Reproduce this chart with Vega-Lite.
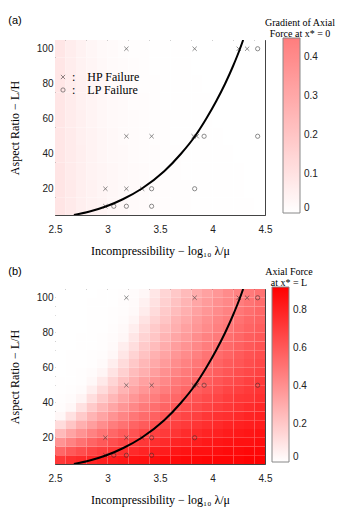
{
"$schema":"https://vega.github.io/schema/vega-lite/v6.json",
"padding":{"left":8,"top":15,"right":5,"bottom":5},
"config":{"view":{"stroke":null},
"axis":{"labelFont":"Liberation Sans","labelFontSize":10,"labelColor":"#222","labelFlush":false,"titleFont":"Liberation Serif","titleFontSize":12,"titleFontWeight":"normal","titleColor":"#000","domainColor":"#444","tickColor":"#555","tickSize":-3,"grid":false,"zindex":1},
"legend":{"titleFont":"Liberation Serif","titleFontSize":10,"titleFontWeight":"normal","titleColor":"#000","labelFont":"Liberation Sans","labelFontSize":10,"labelColor":"#222","gradientStrokeColor":"#888","gradientStrokeWidth":1},
"title":{"font":"Liberation Sans","fontSize":11,"fontWeight":"normal","color":"#000"}},
"datasets":{
"pts":[{"x":2.98,"y":10,"type":"HP"},{"x":2.98,"y":20,"type":"HP"},{"x":3.18,"y":20,"type":"HP"},{"x":3.18,"y":50,"type":"HP"},{"x":3.18,"y":100,"type":"HP"},{"x":3.33,"y":20,"type":"HP"},{"x":3.42,"y":50,"type":"HP"},{"x":3.82,"y":50,"type":"HP"},{"x":3.85,"y":50,"type":"HP"},{"x":3.83,"y":100,"type":"HP"},{"x":4.25,"y":100,"type":"HP"},{"x":4.33,"y":100,"type":"HP"},{"x":3.06,"y":10,"type":"LP"},{"x":3.18,"y":10,"type":"LP"},{"x":3.42,"y":10,"type":"LP"},{"x":3.42,"y":20,"type":"LP"},{"x":3.83,"y":20,"type":"LP"},{"x":3.92,"y":50,"type":"LP"},{"x":4.43,"y":50,"type":"LP"},{"x":4.43,"y":100,"type":"LP"}],
"curve":[{"x":2.68,"y":5},{"x":2.83,"y":7},{"x":2.99,"y":10},{"x":3.146,"y":14},{"x":3.325,"y":20},{"x":3.54,"y":30},{"x":3.7,"y":40},{"x":3.833,"y":50},{"x":3.94,"y":60},{"x":4.035,"y":70},{"x":4.12,"y":80},{"x":4.195,"y":90},{"x":4.262,"y":100},{"x":4.292,"y":105}],
"fa":[
{"x":2.55,"y":10,"v":0.090},{"x":2.65,"y":10,"v":0.072},{"x":2.75,"y":10,"v":0.057},{"x":2.85,"y":10,"v":0.046},{"x":2.95,"y":10,"v":0.037},{"x":3.05,"y":10,"v":0.029},{"x":3.15,"y":10,"v":0.024},{"x":3.25,"y":10,"v":0.019},{"x":3.35,"y":10,"v":0.015},{"x":3.45,"y":10,"v":0.012},{"x":3.55,"y":10,"v":0.010},{"x":3.65,"y":10,"v":0.008},{"x":3.75,"y":10,"v":0.006},{"x":3.85,"y":10,"v":0.005},{"x":3.95,"y":10,"v":0.004},{"x":4.05,"y":10,"v":0.003},{"x":4.15,"y":10,"v":0.003},{"x":4.25,"y":10,"v":0.002},{"x":4.35,"y":10,"v":0.002},{"x":4.45,"y":10,"v":0.001},
{"x":2.55,"y":20,"v":0.089},{"x":2.65,"y":20,"v":0.071},{"x":2.75,"y":20,"v":0.056},{"x":2.85,"y":20,"v":0.045},{"x":2.95,"y":20,"v":0.035},{"x":3.05,"y":20,"v":0.028},{"x":3.15,"y":20,"v":0.022},{"x":3.25,"y":20,"v":0.018},{"x":3.35,"y":20,"v":0.014},{"x":3.45,"y":20,"v":0.011},{"x":3.55,"y":20,"v":0.009},{"x":3.65,"y":20,"v":0.007},{"x":3.75,"y":20,"v":0.006},{"x":3.85,"y":20,"v":0.004},{"x":3.95,"y":20,"v":0.004},{"x":4.05,"y":20,"v":0.003},{"x":4.15,"y":20,"v":0.002},{"x":4.25,"y":20,"v":0.002},{"x":4.35,"y":20,"v":0.001},{"x":4.45,"y":20,"v":0.001},
{"x":2.55,"y":30,"v":0.089},{"x":2.65,"y":30,"v":0.070},{"x":2.75,"y":30,"v":0.055},{"x":2.85,"y":30,"v":0.043},{"x":2.95,"y":30,"v":0.034},{"x":3.05,"y":30,"v":0.027},{"x":3.15,"y":30,"v":0.021},{"x":3.25,"y":30,"v":0.017},{"x":3.35,"y":30,"v":0.013},{"x":3.45,"y":30,"v":0.010},{"x":3.55,"y":30,"v":0.008},{"x":3.65,"y":30,"v":0.006},{"x":3.75,"y":30,"v":0.005},{"x":3.85,"y":30,"v":0.004},{"x":3.95,"y":30,"v":0.003},{"x":4.05,"y":30,"v":0.002},{"x":4.15,"y":30,"v":0.002},{"x":4.25,"y":30,"v":0.002},{"x":4.35,"y":30,"v":0.001},{"x":4.45,"y":30,"v":0.001},
{"x":2.55,"y":40,"v":0.088},{"x":2.65,"y":40,"v":0.069},{"x":2.75,"y":40,"v":0.054},{"x":2.85,"y":40,"v":0.042},{"x":2.95,"y":40,"v":0.032},{"x":3.05,"y":40,"v":0.025},{"x":3.15,"y":40,"v":0.020},{"x":3.25,"y":40,"v":0.015},{"x":3.35,"y":40,"v":0.012},{"x":3.45,"y":40,"v":0.009},{"x":3.55,"y":40,"v":0.007},{"x":3.65,"y":40,"v":0.006},{"x":3.75,"y":40,"v":0.004},{"x":3.85,"y":40,"v":0.003},{"x":3.95,"y":40,"v":0.003},{"x":4.05,"y":40,"v":0.002},{"x":4.15,"y":40,"v":0.002},{"x":4.25,"y":40,"v":0.001},{"x":4.35,"y":40,"v":0.001},{"x":4.45,"y":40,"v":0.001},
{"x":2.55,"y":50,"v":0.088},{"x":2.65,"y":50,"v":0.068},{"x":2.75,"y":50,"v":0.052},{"x":2.85,"y":50,"v":0.040},{"x":2.95,"y":50,"v":0.031},{"x":3.05,"y":50,"v":0.024},{"x":3.15,"y":50,"v":0.018},{"x":3.25,"y":50,"v":0.014},{"x":3.35,"y":50,"v":0.011},{"x":3.45,"y":50,"v":0.008},{"x":3.55,"y":50,"v":0.006},{"x":3.65,"y":50,"v":0.005},{"x":3.75,"y":50,"v":0.004},{"x":3.85,"y":50,"v":0.003},{"x":3.95,"y":50,"v":0.002},{"x":4.05,"y":50,"v":0.002},{"x":4.15,"y":50,"v":0.001},{"x":4.25,"y":50,"v":0.001},{"x":4.35,"y":50,"v":0.001},{"x":4.45,"y":50,"v":0.001},
{"x":2.55,"y":60,"v":0.087},{"x":2.65,"y":60,"v":0.066},{"x":2.75,"y":60,"v":0.051},{"x":2.85,"y":60,"v":0.039},{"x":2.95,"y":60,"v":0.029},{"x":3.05,"y":60,"v":0.022},{"x":3.15,"y":60,"v":0.017},{"x":3.25,"y":60,"v":0.013},{"x":3.35,"y":60,"v":0.010},{"x":3.45,"y":60,"v":0.008},{"x":3.55,"y":60,"v":0.006},{"x":3.65,"y":60,"v":0.004},{"x":3.75,"y":60,"v":0.003},{"x":3.85,"y":60,"v":0.003},{"x":3.95,"y":60,"v":0.002},{"x":4.05,"y":60,"v":0.001},{"x":4.15,"y":60,"v":0.001},{"x":4.25,"y":60,"v":0.001},{"x":4.35,"y":60,"v":0.001},{"x":4.45,"y":60,"v":0},
{"x":2.55,"y":70,"v":0.087},{"x":2.65,"y":70,"v":0.065},{"x":2.75,"y":70,"v":0.049},{"x":2.85,"y":70,"v":0.037},{"x":2.95,"y":70,"v":0.028},{"x":3.05,"y":70,"v":0.021},{"x":3.15,"y":70,"v":0.016},{"x":3.25,"y":70,"v":0.012},{"x":3.35,"y":70,"v":0.009},{"x":3.45,"y":70,"v":0.007},{"x":3.55,"y":70,"v":0.005},{"x":3.65,"y":70,"v":0.004},{"x":3.75,"y":70,"v":0.003},{"x":3.85,"y":70,"v":0.002},{"x":3.95,"y":70,"v":0.002},{"x":4.05,"y":70,"v":0.001},{"x":4.15,"y":70,"v":0.001},{"x":4.25,"y":70,"v":0.001},{"x":4.35,"y":70,"v":0.001},{"x":4.45,"y":70,"v":0},
{"x":2.55,"y":80,"v":0.086},{"x":2.65,"y":80,"v":0.064},{"x":2.75,"y":80,"v":0.047},{"x":2.85,"y":80,"v":0.035},{"x":2.95,"y":80,"v":0.026},{"x":3.05,"y":80,"v":0.019},{"x":3.15,"y":80,"v":0.014},{"x":3.25,"y":80,"v":0.011},{"x":3.35,"y":80,"v":0.008},{"x":3.45,"y":80,"v":0.006},{"x":3.55,"y":80,"v":0.004},{"x":3.65,"y":80,"v":0.003},{"x":3.75,"y":80,"v":0.002},{"x":3.85,"y":80,"v":0.002},{"x":3.95,"y":80,"v":0.001},{"x":4.05,"y":80,"v":0.001},{"x":4.15,"y":80,"v":0.001},{"x":4.25,"y":80,"v":0.001},{"x":4.35,"y":80,"v":0},{"x":4.45,"y":80,"v":0},
{"x":2.55,"y":90,"v":0.085},{"x":2.65,"y":90,"v":0.062},{"x":2.75,"y":90,"v":0.045},{"x":2.85,"y":90,"v":0.033},{"x":2.95,"y":90,"v":0.024},{"x":3.05,"y":90,"v":0.018},{"x":3.15,"y":90,"v":0.013},{"x":3.25,"y":90,"v":0.009},{"x":3.35,"y":90,"v":0.007},{"x":3.45,"y":90,"v":0.005},{"x":3.55,"y":90,"v":0.004},{"x":3.65,"y":90,"v":0.003},{"x":3.75,"y":90,"v":0.002},{"x":3.85,"y":90,"v":0.001},{"x":3.95,"y":90,"v":0.001},{"x":4.05,"y":90,"v":0.001},{"x":4.15,"y":90,"v":0.001},{"x":4.25,"y":90,"v":0},{"x":4.35,"y":90,"v":0},{"x":4.45,"y":90,"v":0},
{"x":2.55,"y":100,"v":0.085},{"x":2.65,"y":100,"v":0.061},{"x":2.75,"y":100,"v":0.044},{"x":2.85,"y":100,"v":0.031},{"x":2.95,"y":100,"v":0.022},{"x":3.05,"y":100,"v":0.016},{"x":3.15,"y":100,"v":0.011},{"x":3.25,"y":100,"v":0.008},{"x":3.35,"y":100,"v":0.006},{"x":3.45,"y":100,"v":0.004},{"x":3.55,"y":100,"v":0.003},{"x":3.65,"y":100,"v":0.002},{"x":3.75,"y":100,"v":0.002},{"x":3.85,"y":100,"v":0.001},{"x":3.95,"y":100,"v":0.001},{"x":4.05,"y":100,"v":0.001},{"x":4.15,"y":100,"v":0},{"x":4.25,"y":100,"v":0},{"x":4.35,"y":100,"v":0},{"x":4.45,"y":100,"v":0}
],
"fb":[
{"x":2.55,"y":7.5,"v":0.72},{"x":2.65,"y":7.5,"v":0.75},{"x":2.75,"y":7.5,"v":0.77},{"x":2.85,"y":7.5,"v":0.79},{"x":2.95,"y":7.5,"v":0.81},{"x":3.05,"y":7.5,"v":0.83},{"x":3.15,"y":7.5,"v":0.84},{"x":3.25,"y":7.5,"v":0.85},{"x":3.35,"y":7.5,"v":0.86},{"x":3.45,"y":7.5,"v":0.87},{"x":3.55,"y":7.5,"v":0.88},{"x":3.65,"y":7.5,"v":0.88},{"x":3.75,"y":7.5,"v":0.89},{"x":3.85,"y":7.5,"v":0.89},{"x":3.95,"y":7.5,"v":0.90},{"x":4.05,"y":7.5,"v":0.90},{"x":4.15,"y":7.5,"v":0.90},{"x":4.25,"y":7.5,"v":0.90},{"x":4.35,"y":7.5,"v":0.91},{"x":4.45,"y":7.5,"v":0.91},
{"x":2.55,"y":12.5,"v":0.55},{"x":2.65,"y":12.5,"v":0.60},{"x":2.75,"y":12.5,"v":0.64},{"x":2.85,"y":12.5,"v":0.67},{"x":2.95,"y":12.5,"v":0.70},{"x":3.05,"y":12.5,"v":0.73},{"x":3.15,"y":12.5,"v":0.75},{"x":3.25,"y":12.5,"v":0.77},{"x":3.35,"y":12.5,"v":0.79},{"x":3.45,"y":12.5,"v":0.81},{"x":3.55,"y":12.5,"v":0.82},{"x":3.65,"y":12.5,"v":0.84},{"x":3.75,"y":12.5,"v":0.85},{"x":3.85,"y":12.5,"v":0.86},{"x":3.95,"y":12.5,"v":0.86},{"x":4.05,"y":12.5,"v":0.87},{"x":4.15,"y":12.5,"v":0.88},{"x":4.25,"y":12.5,"v":0.88},{"x":4.35,"y":12.5,"v":0.89},{"x":4.45,"y":12.5,"v":0.89},
{"x":2.55,"y":17.5,"v":0.39},{"x":2.65,"y":17.5,"v":0.45},{"x":2.75,"y":17.5,"v":0.51},{"x":2.85,"y":17.5,"v":0.56},{"x":2.95,"y":17.5,"v":0.60},{"x":3.05,"y":17.5,"v":0.64},{"x":3.15,"y":17.5,"v":0.67},{"x":3.25,"y":17.5,"v":0.70},{"x":3.35,"y":17.5,"v":0.72},{"x":3.45,"y":17.5,"v":0.75},{"x":3.55,"y":17.5,"v":0.77},{"x":3.65,"y":17.5,"v":0.79},{"x":3.75,"y":17.5,"v":0.80},{"x":3.85,"y":17.5,"v":0.81},{"x":3.95,"y":17.5,"v":0.83},{"x":4.05,"y":17.5,"v":0.84},{"x":4.15,"y":17.5,"v":0.85},{"x":4.25,"y":17.5,"v":0.86},{"x":4.35,"y":17.5,"v":0.86},{"x":4.45,"y":17.5,"v":0.87},
{"x":2.55,"y":22.5,"v":0.25},{"x":2.65,"y":22.5,"v":0.33},{"x":2.75,"y":22.5,"v":0.39},{"x":2.85,"y":22.5,"v":0.45},{"x":2.95,"y":22.5,"v":0.50},{"x":3.05,"y":22.5,"v":0.55},{"x":3.15,"y":22.5,"v":0.59},{"x":3.25,"y":22.5,"v":0.62},{"x":3.35,"y":22.5,"v":0.66},{"x":3.45,"y":22.5,"v":0.69},{"x":3.55,"y":22.5,"v":0.71},{"x":3.65,"y":22.5,"v":0.73},{"x":3.75,"y":22.5,"v":0.76},{"x":3.85,"y":22.5,"v":0.77},{"x":3.95,"y":22.5,"v":0.79},{"x":4.05,"y":22.5,"v":0.80},{"x":4.15,"y":22.5,"v":0.82},{"x":4.25,"y":22.5,"v":0.83},{"x":4.35,"y":22.5,"v":0.84},{"x":4.45,"y":22.5,"v":0.85},
{"x":2.55,"y":27.5,"v":0.13},{"x":2.65,"y":27.5,"v":0.21},{"x":2.75,"y":27.5,"v":0.29},{"x":2.85,"y":27.5,"v":0.35},{"x":2.95,"y":27.5,"v":0.41},{"x":3.05,"y":27.5,"v":0.47},{"x":3.15,"y":27.5,"v":0.51},{"x":3.25,"y":27.5,"v":0.56},{"x":3.35,"y":27.5,"v":0.59},{"x":3.45,"y":27.5,"v":0.63},{"x":3.55,"y":27.5,"v":0.66},{"x":3.65,"y":27.5,"v":0.69},{"x":3.75,"y":27.5,"v":0.71},{"x":3.85,"y":27.5,"v":0.73},{"x":3.95,"y":27.5,"v":0.75},{"x":4.05,"y":27.5,"v":0.77},{"x":4.15,"y":27.5,"v":0.79},{"x":4.25,"y":27.5,"v":0.80},{"x":4.35,"y":27.5,"v":0.81},{"x":4.45,"y":27.5,"v":0.82},
{"x":2.55,"y":32.5,"v":0.03},{"x":2.65,"y":32.5,"v":0.11},{"x":2.75,"y":32.5,"v":0.19},{"x":2.85,"y":32.5,"v":0.27},{"x":2.95,"y":32.5,"v":0.33},{"x":3.05,"y":32.5,"v":0.39},{"x":3.15,"y":32.5,"v":0.44},{"x":3.25,"y":32.5,"v":0.49},{"x":3.35,"y":32.5,"v":0.53},{"x":3.45,"y":32.5,"v":0.57},{"x":3.55,"y":32.5,"v":0.61},{"x":3.65,"y":32.5,"v":0.64},{"x":3.75,"y":32.5,"v":0.67},{"x":3.85,"y":32.5,"v":0.69},{"x":3.95,"y":32.5,"v":0.72},{"x":4.05,"y":32.5,"v":0.74},{"x":4.15,"y":32.5,"v":0.75},{"x":4.25,"y":32.5,"v":0.77},{"x":4.35,"y":32.5,"v":0.79},{"x":4.45,"y":32.5,"v":0.80},
{"x":2.55,"y":37.5,"v":0.012},{"x":2.65,"y":37.5,"v":0.03},{"x":2.75,"y":37.5,"v":0.11},{"x":2.85,"y":37.5,"v":0.19},{"x":2.95,"y":37.5,"v":0.26},{"x":3.05,"y":37.5,"v":0.32},{"x":3.15,"y":37.5,"v":0.38},{"x":3.25,"y":37.5,"v":0.43},{"x":3.35,"y":37.5,"v":0.48},{"x":3.45,"y":37.5,"v":0.52},{"x":3.55,"y":37.5,"v":0.56},{"x":3.65,"y":37.5,"v":0.60},{"x":3.75,"y":37.5,"v":0.63},{"x":3.85,"y":37.5,"v":0.65},{"x":3.95,"y":37.5,"v":0.68},{"x":4.05,"y":37.5,"v":0.70},{"x":4.15,"y":37.5,"v":0.72},{"x":4.25,"y":37.5,"v":0.74},{"x":4.35,"y":37.5,"v":0.76},{"x":4.45,"y":37.5,"v":0.78},
{"x":2.55,"y":42.5,"v":0.006},{"x":2.65,"y":42.5,"v":0.013},{"x":2.75,"y":42.5,"v":0.04},{"x":2.85,"y":42.5,"v":0.12},{"x":2.95,"y":42.5,"v":0.19},{"x":3.05,"y":42.5,"v":0.26},{"x":3.15,"y":42.5,"v":0.32},{"x":3.25,"y":42.5,"v":0.38},{"x":3.35,"y":42.5,"v":0.43},{"x":3.45,"y":42.5,"v":0.47},{"x":3.55,"y":42.5,"v":0.52},{"x":3.65,"y":42.5,"v":0.55},{"x":3.75,"y":42.5,"v":0.59},{"x":3.85,"y":42.5,"v":0.62},{"x":3.95,"y":42.5,"v":0.65},{"x":4.05,"y":42.5,"v":0.67},{"x":4.15,"y":42.5,"v":0.70},{"x":4.25,"y":42.5,"v":0.72},{"x":4.35,"y":42.5,"v":0.73},{"x":4.45,"y":42.5,"v":0.75},
{"x":2.55,"y":47.5,"v":0.003},{"x":2.65,"y":47.5,"v":0.007},{"x":2.75,"y":47.5,"v":0.016},{"x":2.85,"y":47.5,"v":0.06},{"x":2.95,"y":47.5,"v":0.13},{"x":3.05,"y":47.5,"v":0.20},{"x":3.15,"y":47.5,"v":0.27},{"x":3.25,"y":47.5,"v":0.33},{"x":3.35,"y":47.5,"v":0.38},{"x":3.45,"y":47.5,"v":0.43},{"x":3.55,"y":47.5,"v":0.47},{"x":3.65,"y":47.5,"v":0.51},{"x":3.75,"y":47.5,"v":0.55},{"x":3.85,"y":47.5,"v":0.58},{"x":3.95,"y":47.5,"v":0.61},{"x":4.05,"y":47.5,"v":0.64},{"x":4.15,"y":47.5,"v":0.67},{"x":4.25,"y":47.5,"v":0.69},{"x":4.35,"y":47.5,"v":0.71},{"x":4.45,"y":47.5,"v":0.73},
{"x":2.55,"y":52.5,"v":0.002},{"x":2.65,"y":52.5,"v":0.004},{"x":2.75,"y":52.5,"v":0.009},{"x":2.85,"y":52.5,"v":0.025},{"x":2.95,"y":52.5,"v":0.08},{"x":3.05,"y":52.5,"v":0.15},{"x":3.15,"y":52.5,"v":0.22},{"x":3.25,"y":52.5,"v":0.28},{"x":3.35,"y":52.5,"v":0.34},{"x":3.45,"y":52.5,"v":0.39},{"x":3.55,"y":52.5,"v":0.43},{"x":3.65,"y":52.5,"v":0.48},{"x":3.75,"y":52.5,"v":0.51},{"x":3.85,"y":52.5,"v":0.55},{"x":3.95,"y":52.5,"v":0.58},{"x":4.05,"y":52.5,"v":0.61},{"x":4.15,"y":52.5,"v":0.64},{"x":4.25,"y":52.5,"v":0.66},{"x":4.35,"y":52.5,"v":0.69},{"x":4.45,"y":52.5,"v":0.71},
{"x":2.55,"y":57.5,"v":0.001},{"x":2.65,"y":57.5,"v":0.003},{"x":2.75,"y":57.5,"v":0.006},{"x":2.85,"y":57.5,"v":0.013},{"x":2.95,"y":57.5,"v":0.035},{"x":3.05,"y":57.5,"v":0.10},{"x":3.15,"y":57.5,"v":0.17},{"x":3.25,"y":57.5,"v":0.24},{"x":3.35,"y":57.5,"v":0.29},{"x":3.45,"y":57.5,"v":0.35},{"x":3.55,"y":57.5,"v":0.40},{"x":3.65,"y":57.5,"v":0.44},{"x":3.75,"y":57.5,"v":0.48},{"x":3.85,"y":57.5,"v":0.52},{"x":3.95,"y":57.5,"v":0.55},{"x":4.05,"y":57.5,"v":0.58},{"x":4.15,"y":57.5,"v":0.61},{"x":4.25,"y":57.5,"v":0.64},{"x":4.35,"y":57.5,"v":0.66},{"x":4.45,"y":57.5,"v":0.68},
{"x":2.55,"y":62.5,"v":0.001},{"x":2.65,"y":62.5,"v":0.002},{"x":2.75,"y":62.5,"v":0.004},{"x":2.85,"y":62.5,"v":0.009},{"x":2.95,"y":62.5,"v":0.018},{"x":3.05,"y":62.5,"v":0.06},{"x":3.15,"y":62.5,"v":0.13},{"x":3.25,"y":62.5,"v":0.20},{"x":3.35,"y":62.5,"v":0.26},{"x":3.45,"y":62.5,"v":0.31},{"x":3.55,"y":62.5,"v":0.36},{"x":3.65,"y":62.5,"v":0.41},{"x":3.75,"y":62.5,"v":0.45},{"x":3.85,"y":62.5,"v":0.49},{"x":3.95,"y":62.5,"v":0.52},{"x":4.05,"y":62.5,"v":0.56},{"x":4.15,"y":62.5,"v":0.59},{"x":4.25,"y":62.5,"v":0.61},{"x":4.35,"y":62.5,"v":0.64},{"x":4.45,"y":62.5,"v":0.66},
{"x":2.55,"y":67.5,"v":0.001},{"x":2.65,"y":67.5,"v":0.002},{"x":2.75,"y":67.5,"v":0.003},{"x":2.85,"y":67.5,"v":0.006},{"x":2.95,"y":67.5,"v":0.012},{"x":3.05,"y":67.5,"v":0.03},{"x":3.15,"y":67.5,"v":0.09},{"x":3.25,"y":67.5,"v":0.16},{"x":3.35,"y":67.5,"v":0.22},{"x":3.45,"y":67.5,"v":0.28},{"x":3.55,"y":67.5,"v":0.33},{"x":3.65,"y":67.5,"v":0.38},{"x":3.75,"y":67.5,"v":0.42},{"x":3.85,"y":67.5,"v":0.46},{"x":3.95,"y":67.5,"v":0.50},{"x":4.05,"y":67.5,"v":0.53},{"x":4.15,"y":67.5,"v":0.56},{"x":4.25,"y":67.5,"v":0.59},{"x":4.35,"y":67.5,"v":0.62},{"x":4.45,"y":67.5,"v":0.64},
{"x":2.55,"y":72.5,"v":0},{"x":2.65,"y":72.5,"v":0.001},{"x":2.75,"y":72.5,"v":0.002},{"x":2.85,"y":72.5,"v":0.004},{"x":2.95,"y":72.5,"v":0.009},{"x":3.05,"y":72.5,"v":0.018},{"x":3.15,"y":72.5,"v":0.06},{"x":3.25,"y":72.5,"v":0.12},{"x":3.35,"y":72.5,"v":0.19},{"x":3.45,"y":72.5,"v":0.24},{"x":3.55,"y":72.5,"v":0.30},{"x":3.65,"y":72.5,"v":0.35},{"x":3.75,"y":72.5,"v":0.39},{"x":3.85,"y":72.5,"v":0.43},{"x":3.95,"y":72.5,"v":0.47},{"x":4.05,"y":72.5,"v":0.51},{"x":4.15,"y":72.5,"v":0.54},{"x":4.25,"y":72.5,"v":0.57},{"x":4.35,"y":72.5,"v":0.60},{"x":4.45,"y":72.5,"v":0.62},
{"x":2.55,"y":77.5,"v":0},{"x":2.65,"y":77.5,"v":0.001},{"x":2.75,"y":77.5,"v":0.002},{"x":2.85,"y":77.5,"v":0.003},{"x":2.95,"y":77.5,"v":0.007},{"x":3.05,"y":77.5,"v":0.013},{"x":3.15,"y":77.5,"v":0.03},{"x":3.25,"y":77.5,"v":0.09},{"x":3.35,"y":77.5,"v":0.16},{"x":3.45,"y":77.5,"v":0.21},{"x":3.55,"y":77.5,"v":0.27},{"x":3.65,"y":77.5,"v":0.32},{"x":3.75,"y":77.5,"v":0.36},{"x":3.85,"y":77.5,"v":0.41},{"x":3.95,"y":77.5,"v":0.45},{"x":4.05,"y":77.5,"v":0.48},{"x":4.15,"y":77.5,"v":0.52},{"x":4.25,"y":77.5,"v":0.55},{"x":4.35,"y":77.5,"v":0.58},{"x":4.45,"y":77.5,"v":0.60},
{"x":2.55,"y":82.5,"v":0},{"x":2.65,"y":82.5,"v":0},{"x":2.75,"y":82.5,"v":0.001},{"x":2.85,"y":82.5,"v":0.003},{"x":2.95,"y":82.5,"v":0.005},{"x":3.05,"y":82.5,"v":0.01},{"x":3.15,"y":82.5,"v":0.02},{"x":3.25,"y":82.5,"v":0.06},{"x":3.35,"y":82.5,"v":0.13},{"x":3.45,"y":82.5,"v":0.19},{"x":3.55,"y":82.5,"v":0.24},{"x":3.65,"y":82.5,"v":0.29},{"x":3.75,"y":82.5,"v":0.34},{"x":3.85,"y":82.5,"v":0.38},{"x":3.95,"y":82.5,"v":0.42},{"x":4.05,"y":82.5,"v":0.46},{"x":4.15,"y":82.5,"v":0.49},{"x":4.25,"y":82.5,"v":0.53},{"x":4.35,"y":82.5,"v":0.56},{"x":4.45,"y":82.5,"v":0.58},
{"x":2.55,"y":87.5,"v":0},{"x":2.65,"y":87.5,"v":0},{"x":2.75,"y":87.5,"v":0.001},{"x":2.85,"y":87.5,"v":0.002},{"x":2.95,"y":87.5,"v":0.004},{"x":3.05,"y":87.5,"v":0.008},{"x":3.15,"y":87.5,"v":0.015},{"x":3.25,"y":87.5,"v":0.035},{"x":3.35,"y":87.5,"v":0.10},{"x":3.45,"y":87.5,"v":0.16},{"x":3.55,"y":87.5,"v":0.21},{"x":3.65,"y":87.5,"v":0.27},{"x":3.75,"y":87.5,"v":0.31},{"x":3.85,"y":87.5,"v":0.36},{"x":3.95,"y":87.5,"v":0.40},{"x":4.05,"y":87.5,"v":0.44},{"x":4.15,"y":87.5,"v":0.47},{"x":4.25,"y":87.5,"v":0.51},{"x":4.35,"y":87.5,"v":0.54},{"x":4.45,"y":87.5,"v":0.56},
{"x":2.55,"y":92.5,"v":0},{"x":2.65,"y":92.5,"v":0},{"x":2.75,"y":92.5,"v":0.001},{"x":2.85,"y":92.5,"v":0.002},{"x":2.95,"y":92.5,"v":0.003},{"x":3.05,"y":92.5,"v":0.006},{"x":3.15,"y":92.5,"v":0.012},{"x":3.25,"y":92.5,"v":0.022},{"x":3.35,"y":92.5,"v":0.07},{"x":3.45,"y":92.5,"v":0.13},{"x":3.55,"y":92.5,"v":0.19},{"x":3.65,"y":92.5,"v":0.24},{"x":3.75,"y":92.5,"v":0.29},{"x":3.85,"y":92.5,"v":0.34},{"x":3.95,"y":92.5,"v":0.38},{"x":4.05,"y":92.5,"v":0.42},{"x":4.15,"y":92.5,"v":0.45},{"x":4.25,"y":92.5,"v":0.49},{"x":4.35,"y":92.5,"v":0.52},{"x":4.45,"y":92.5,"v":0.55},
{"x":2.55,"y":97.5,"v":0},{"x":2.65,"y":97.5,"v":0},{"x":2.75,"y":97.5,"v":0},{"x":2.85,"y":97.5,"v":0.002},{"x":2.95,"y":97.5,"v":0.003},{"x":3.05,"y":97.5,"v":0.005},{"x":3.15,"y":97.5,"v":0.01},{"x":3.25,"y":97.5,"v":0.018},{"x":3.35,"y":97.5,"v":0.05},{"x":3.45,"y":97.5,"v":0.11},{"x":3.55,"y":97.5,"v":0.17},{"x":3.65,"y":97.5,"v":0.22},{"x":3.75,"y":97.5,"v":0.27},{"x":3.85,"y":97.5,"v":0.32},{"x":3.95,"y":97.5,"v":0.36},{"x":4.05,"y":97.5,"v":0.40},{"x":4.15,"y":97.5,"v":0.43},{"x":4.25,"y":97.5,"v":0.47},{"x":4.35,"y":97.5,"v":0.50},{"x":4.45,"y":97.5,"v":0.53},
{"x":2.55,"y":102.5,"v":0},{"x":2.65,"y":102.5,"v":0},{"x":2.75,"y":102.5,"v":0},{"x":2.85,"y":102.5,"v":0.001},{"x":2.95,"y":102.5,"v":0.002},{"x":3.05,"y":102.5,"v":0.004},{"x":3.15,"y":102.5,"v":0.008},{"x":3.25,"y":102.5,"v":0.014},{"x":3.35,"y":102.5,"v":0.03},{"x":3.45,"y":102.5,"v":0.09},{"x":3.55,"y":102.5,"v":0.15},{"x":3.65,"y":102.5,"v":0.20},{"x":3.75,"y":102.5,"v":0.25},{"x":3.85,"y":102.5,"v":0.30},{"x":3.95,"y":102.5,"v":0.34},{"x":4.05,"y":102.5,"v":0.38},{"x":4.15,"y":102.5,"v":0.42},{"x":4.25,"y":102.5,"v":0.45},{"x":4.35,"y":102.5,"v":0.48},{"x":4.45,"y":102.5,"v":0.51}
]},
"vconcat":[
{"title":{"text":"(a)","anchor":"start","frame":"bounds","offset":-8},
 "width":210,"height":175,
 "layer":[
  {"data":{"name":"fa"},"mark":{"type":"rect"},
   "encoding":{"x":{"field":"x","type":"ordinal","axis":null,"scale":{"paddingInner":0,"paddingOuter":0}},
    "y":{"field":"y","type":"ordinal","axis":null,"sort":"descending","scale":{"paddingInner":0,"paddingOuter":0}},
    "color":{"field":"v","type":"quantitative","scale":{"domain":[0,0.45],"range":["#ffffff","#ff7d7d"],"interpolate":"rgb"},
     "legend":{"orient":"none","legendX":210,"legendY":-22,"direction":"vertical","gradientLength":175,"gradientThickness":17,"title":["Gradient of Axial","Force at x* = 0"],"titleAnchor":"middle","titleAlign":"center","titleLineHeight":11,"titlePadding":-1,"labelOffset":4,"values":[0,0.1,0.2,0.3,0.4],"labelExpr":"''+datum.value"}}}},
  {"data":{"name":"pts"},"mark":{"type":"point","filled":false,"strokeWidth":0.8,"size":18,"color":"#333"},
   "encoding":{"x":{"field":"x","type":"quantitative","scale":{"domain":[2.5,4.5],"nice":false,"zero":false},"axis":{"orient":"bottom","values":[2.5,3,3.5,4,4.5],"labelExpr":"''+datum.value","labelPadding":12,"title":"Incompressibility  −  log₁₀ λ/μ","titlePadding":11}},
    "y":{"field":"y","type":"quantitative","scale":{"domain":[5,105],"nice":false,"zero":false},"axis":{"orient":"left","values":[20,40,60,80,100],"labelPadding":5,"title":"Aspect Ratio  −  L/H","titlePadding":15}},
    "shape":{"field":"type","type":"nominal","scale":{"domain":["HP","LP"],"range":["M-1,-1L1,1M-1,1L1,-1","circle"]},
     "legend":{"orient":"none","legendX":2,"legendY":31,"title":null,"padding":0,"labelFont":"Liberation Serif","labelFontSize":12,"labelColor":"#000","labelOffset":3,"rowPadding":1,"symbolSize":18,"symbolStrokeWidth":0.8,"symbolStrokeColor":"#333","labelExpr":"datum.label == 'HP' ? ':\u2002\u2002HP Failure' : ':\u2002\u2002LP Failure'"}}}},
  {"data":{"name":"curve"},"mark":{"type":"line","color":"#000","strokeWidth":2,"interpolate":"monotone","clip":true},
   "encoding":{"x":{"field":"x","type":"quantitative","scale":{"domain":[2.5,4.5],"nice":false,"zero":false},"axis":{"orient":"top","values":[2.5,3,3.5,4,4.5],"labels":false,"title":null}},
    "y":{"field":"y","type":"quantitative","scale":{"domain":[5,105],"nice":false,"zero":false},"axis":{"orient":"right","values":[20,40,60,80,100],"labels":false,"title":null}}}}
 ],
 "resolve":{"scale":{"x":"independent","y":"independent"}}},
{"title":{"text":"(b)","anchor":"start","frame":"bounds","offset":-10},
 "width":210,"height":175,
 "layer":[
  {"data":{"name":"fb"},"mark":{"type":"rect"},
   "encoding":{"x":{"field":"x","type":"ordinal","axis":null,"scale":{"paddingInner":0,"paddingOuter":0}},
    "y":{"field":"y","type":"ordinal","axis":null,"sort":"descending","scale":{"paddingInner":0,"paddingOuter":0}},
    "color":{"field":"v","type":"quantitative","scale":{"domain":[0,0.92],"range":["#ffffff","#ff0000"],"interpolate":"rgb"},
     "legend":{"orient":"none","legendX":210,"legendY":-22,"direction":"vertical","gradientLength":175,"gradientThickness":17,"title":["Axial Force","at x* = L"],"titleAnchor":"middle","titleAlign":"center","titleLineHeight":11,"titlePadding":-1,"labelOffset":4,"values":[0,0.2,0.4,0.6,0.8],"labelExpr":"''+datum.value"}}}},
  {"data":{"name":"pts"},"mark":{"type":"point","filled":false,"strokeWidth":0.8,"size":18,"color":"#333"},
   "encoding":{"x":{"field":"x","type":"quantitative","scale":{"domain":[2.5,4.5],"nice":false,"zero":false},"axis":{"orient":"bottom","values":[2.5,3,3.5,4,4.5],"labelExpr":"''+datum.value","labelPadding":12,"title":"Incompressibility  −  log₁₀ λ/μ","titlePadding":11}},
    "y":{"field":"y","type":"quantitative","scale":{"domain":[5,105],"nice":false,"zero":false},"axis":{"orient":"left","values":[20,40,60,80,100],"labelPadding":5,"title":"Aspect Ratio  −  L/H","titlePadding":15}},
    "shape":{"field":"type","type":"nominal","scale":{"domain":["HP","LP"],"range":["M-1,-1L1,1M-1,1L1,-1","circle"]},"legend":null}}},
  {"data":{"name":"curve"},"mark":{"type":"line","color":"#000","strokeWidth":2,"interpolate":"monotone","clip":true},
   "encoding":{"x":{"field":"x","type":"quantitative","scale":{"domain":[2.5,4.5],"nice":false,"zero":false},"axis":{"orient":"top","values":[2.5,3,3.5,4,4.5],"labels":false,"title":null}},
    "y":{"field":"y","type":"quantitative","scale":{"domain":[5,105],"nice":false,"zero":false},"axis":{"orient":"right","values":[20,40,60,80,100],"labels":false,"title":null}}}}
 ],
 "resolve":{"scale":{"x":"independent","y":"independent"}}}
],
"spacing":10,
"resolve":{"scale":{"color":"independent","shape":"independent"}}
}
